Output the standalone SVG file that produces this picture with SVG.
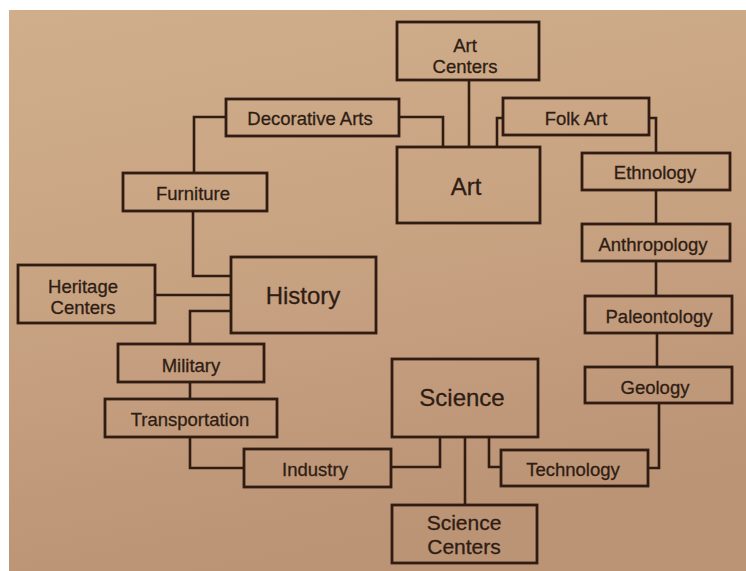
<svg xmlns="http://www.w3.org/2000/svg" width="746" height="571" viewBox="0 0 746 571">
<defs>
<linearGradient id="page" x1="0" y1="0" x2="0.25" y2="1">
<stop offset="0" stop-color="#d0ae8b"/>
<stop offset="0.5" stop-color="#c8a382"/>
<stop offset="1" stop-color="#bb9375"/>
</linearGradient>
<style>
.box{fill:none;stroke:#301c13;stroke-width:2.8}
.ln{fill:none;stroke:#301c13;stroke-width:2.6}
text{font-family:"Liberation Sans",Arial,sans-serif;fill:#2f1d14;text-anchor:middle;dominant-baseline:central;stroke:#2f1d14;stroke-width:0.3}
.s{font-size:18.5px}
.b{font-size:24px}
.c{font-size:21px}
</style>
</defs>
<rect x="0" y="0" width="746" height="571" fill="#ffffff"/>
<rect x="9" y="10" width="737" height="561" fill="url(#page)"/>
<g id="connectors">
<path class="ln" d="M469 80 V147"/>
<path class="ln" d="M399 117 H443 V147"/>
<path class="ln" d="M226 117 H194 V173"/>
<path class="ln" d="M503 118 H497 V147"/>
<path class="ln" d="M649 118 H656 V153"/>
<path class="ln" d="M656 190 V224"/>
<path class="ln" d="M656 261 V296"/>
<path class="ln" d="M657 333 V367"/>
<path class="ln" d="M659 403 V468 H648"/>
<path class="ln" d="M193 211 V276 H231"/>
<path class="ln" d="M155 295 H231"/>
<path class="ln" d="M231 311 H190 V344"/>
<path class="ln" d="M190 382 V399"/>
<path class="ln" d="M190 437 V468 H244"/>
<path class="ln" d="M391 467 H440 V437"/>
<path class="ln" d="M465 437 V505"/>
<path class="ln" d="M489 437 V467 H501"/>
</g>
<g id="art-centers"><rect class="box" x="397" y="22" width="142" height="58"/><text class="s" x="465" y="45">Art</text><text class="s" x="465" y="66">Centers</text></g>
<g id="decorative-arts"><rect class="box" x="226" y="99" width="173" height="37"/><text class="s" x="310" y="118">Decorative Arts</text></g>
<g id="folk-art"><rect class="box" x="503" y="98" width="146" height="37"/><text class="s" x="576" y="118">Folk Art</text></g>
<g id="art"><rect class="box" x="397" y="147" width="143" height="76"/><text class="b" x="466" y="186">Art</text></g>
<g id="ethnology"><rect class="box" x="582" y="153" width="148" height="37"/><text class="s" x="655" y="172">Ethnology</text></g>
<g id="furniture"><rect class="box" x="123" y="173" width="144" height="38"/><text class="s" x="193" y="193">Furniture</text></g>
<g id="anthropology"><rect class="box" x="582" y="224" width="148" height="37"/><text class="s" x="653" y="244">Anthropology</text></g>
<g id="heritage-centers"><rect class="box" x="18" y="265" width="137" height="58"/><text class="s" x="83" y="286">Heritage</text><text class="s" x="83" y="307">Centers</text></g>
<g id="history"><rect class="box" x="231" y="257" width="145" height="76"/><text class="b" x="303" y="295">History</text></g>
<g id="paleontology"><rect class="box" x="585" y="296" width="147" height="37"/><text class="s" x="659" y="316">Paleontology</text></g>
<g id="military"><rect class="box" x="118" y="344" width="146" height="38"/><text class="s" x="191" y="365">Military</text></g>
<g id="science"><rect class="box" x="392" y="359" width="146" height="78"/><text class="b" x="462" y="397">Science</text></g>
<g id="geology"><rect class="box" x="585" y="367" width="147" height="36"/><text class="s" x="655" y="387">Geology</text></g>
<g id="transportation"><rect class="box" x="105" y="399" width="172" height="38"/><text class="s" x="190" y="419">Transportation</text></g>
<g id="industry"><rect class="box" x="244" y="449" width="147" height="38"/><text class="s" x="315" y="469">Industry</text></g>
<g id="technology"><rect class="box" x="501" y="450" width="147" height="36"/><text class="s" x="573" y="469">Technology</text></g>
<g id="science-centers"><rect class="box" x="392" y="505" width="145" height="58"/><text class="c" x="464" y="522">Science</text><text class="c" x="464" y="546">Centers</text></g>
</svg>
